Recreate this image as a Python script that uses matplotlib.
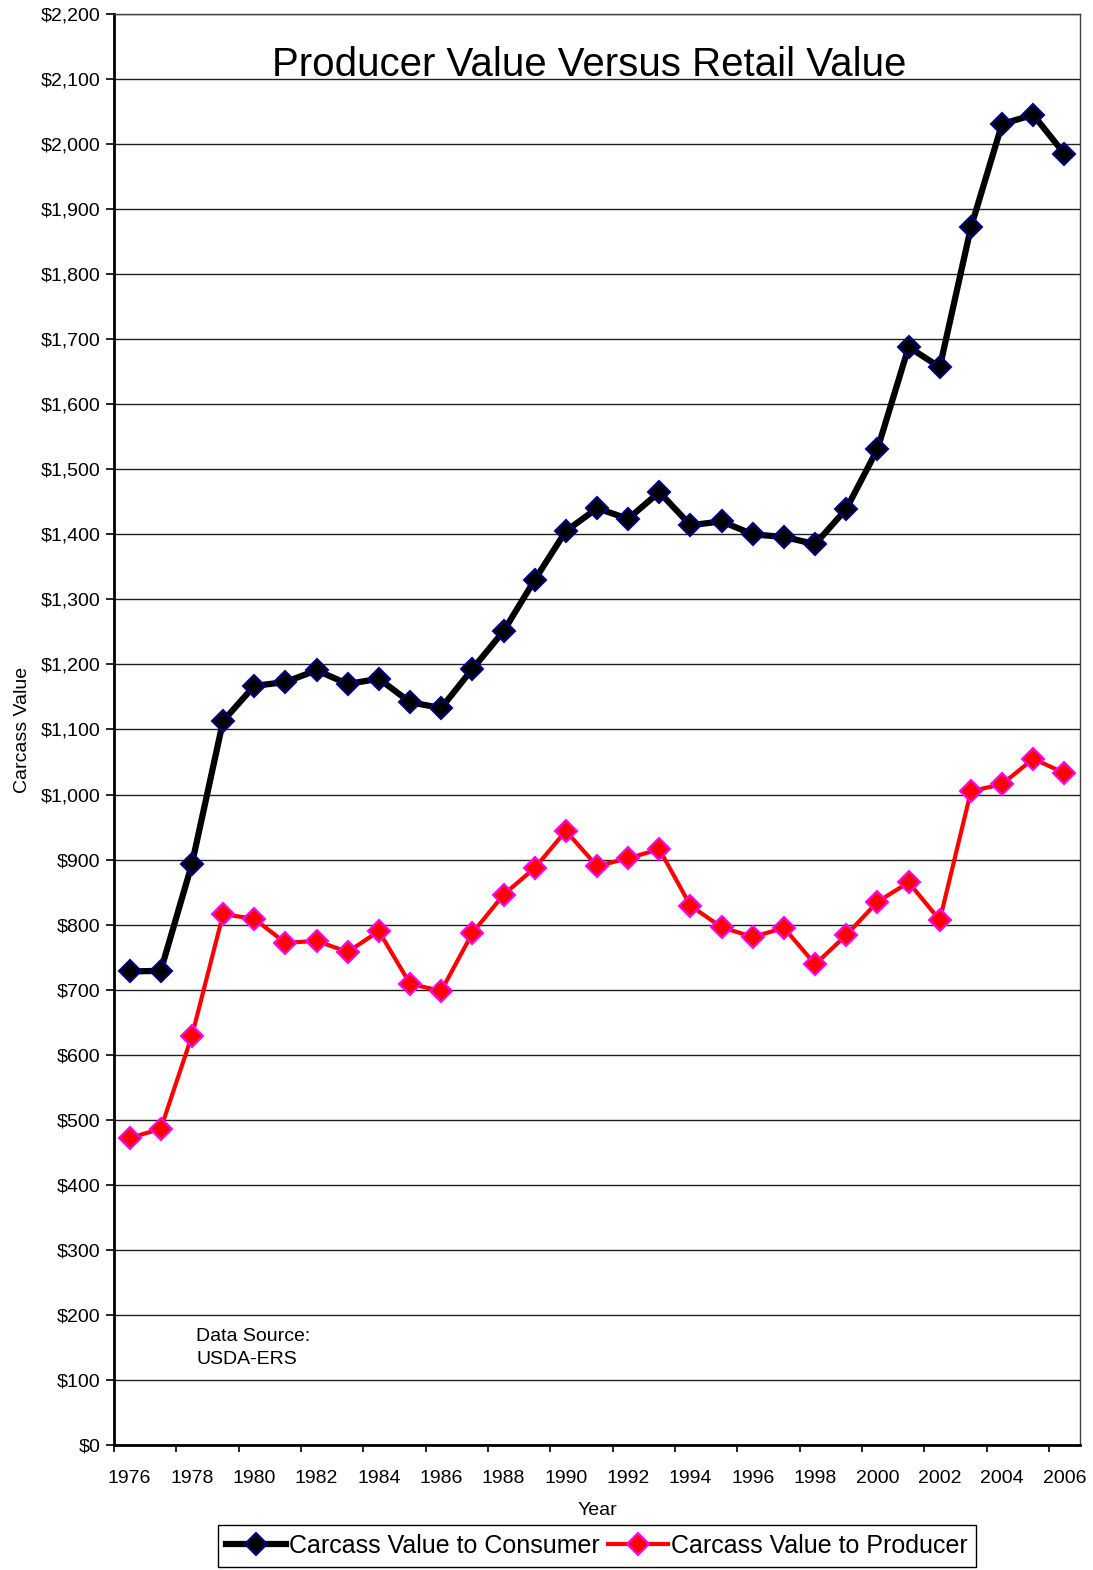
import numpy as np
import matplotlib.pyplot as plt

plt.rcParams['font.family'] = ['Liberation Sans', 'DejaVu Sans']

years = list(range(1976, 2007))
consumer = [728, 729, 893, 1113, 1167, 1173, 1191, 1170, 1178, 1142, 1133,
            1193, 1251, 1330, 1405, 1440, 1424, 1465, 1414, 1420, 1400, 1396,
            1385, 1439, 1531, 1688, 1657, 1872, 2031, 2045, 1985]
producer = [472, 486, 629, 816, 809, 772, 775, 758, 790, 709, 698,
            787, 846, 887, 944, 890, 902, 916, 829, 796, 781, 795,
            739, 784, 835, 865, 807, 1005, 1016, 1055, 1033]
y_ticks = list(range(0, 2201, 100))

fig = plt.figure(figsize=(10.93, 15.70), dpi=100)
ax = fig.add_axes([114/1093, 1 - 1445/1570, (1080 - 114)/1093, (1445 - 14)/1570])

x = np.arange(len(years))
ax.plot(x, consumer, color='black', lw=4.5, marker='D', ms=11,
        mfc='black', mec='#000080', mew=1.5, label='Carcass Value to Consumer', zorder=3)
ax.plot(x, producer, color='#ff0000', lw=3, marker='D', ms=11,
        mfc='#ff0000', mec='#ff00ff', mew=1.5, label='Carcass Value to Producer', zorder=3)

ax.set_xlim(-0.5, len(years) - 0.5)
ax.set_ylim(0, 2200)
ax.set_yticks(y_ticks)
ax.set_yticklabels(['${:,}'.format(v) for v in y_ticks])
ax.yaxis.grid(True, color='#202020', lw=1)
ax.set_axisbelow(True)

# category axis: ticks between categories, labels every second year
ax.set_xticks(np.arange(-0.5, len(years), 2))
ax.set_xticklabels([])
ax.set_xticks(x[::2], minor=True)
ax.set_xticklabels([str(y) for y in years[::2]], minor=True)
ax.tick_params(axis='x', which='minor', length=0, pad=18, labelsize=14)
ax.tick_params(axis='x', which='major', length=5, width=1.2)
ax.tick_params(axis='y', length=6, width=1.2, labelsize=14, pad=4)

for side in ['left', 'bottom']:
    ax.spines[side].set_linewidth(2)
for side in ['top', 'right']:
    ax.spines[side].set_linewidth(1)
    ax.spines[side].set_color('#404040')

ax.text(0.4917, 0.9645, 'Producer Value Versus Retail Value', transform=ax.transAxes,
        ha='center', va='center', fontsize=29)
ax.text(0.085, 0.0815, 'Data Source:\nUSDA-ERS', transform=ax.transAxes,
        ha='left', va='top', fontsize=14, linespacing=1.45)

ax.set_xlabel('Year', fontsize=14, labelpad=11)
ax.set_ylabel('Carcass Value', fontsize=14, labelpad=7)

leg = ax.legend(loc='center', bbox_to_anchor=(597/1093, 1 - 1546/1570),
                bbox_transform=fig.transFigure, ncol=2, fontsize=18,
                fancybox=False, framealpha=1, edgecolor='black',
                handlelength=2.4, handletextpad=0.1, columnspacing=0.35,
                borderpad=0.35, borderaxespad=0)
leg.get_frame().set_linewidth(1)

fig.savefig('out.png', dpi=100)
